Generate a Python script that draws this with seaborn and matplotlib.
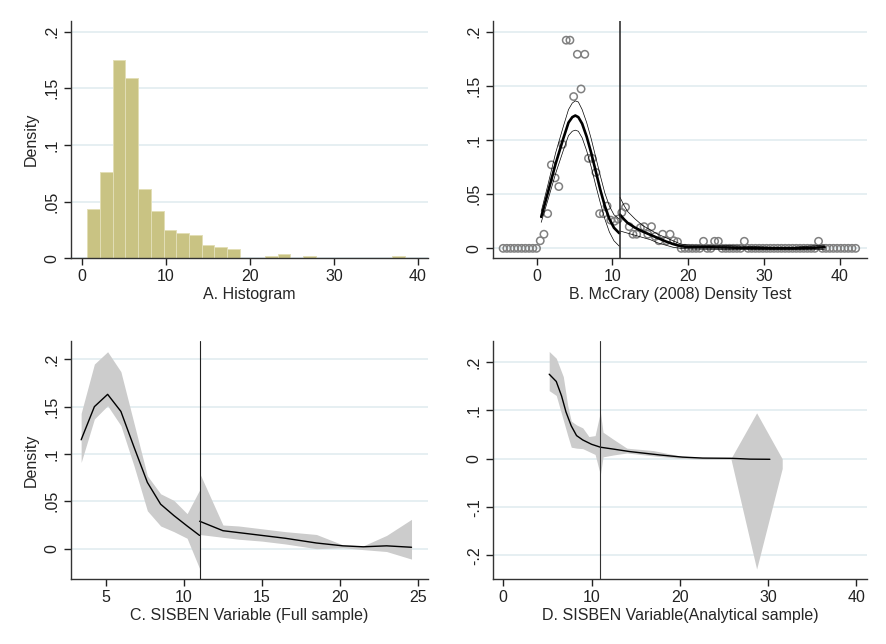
import matplotlib
matplotlib.use("Agg")
import matplotlib.pyplot as plt
import matplotlib.ticker as mticker
import seaborn as sns

# %% data
# A. histogram (bin mids, density)
hist_mid = [1.425, 2.935, 4.445, 5.955, 7.465, 8.975, 10.485, 11.995, 13.505, 15.015,
            16.525, 18.035, 19.545, 21.055, 22.565, 24.075, 25.585, 27.095, 28.605, 30.115,
            31.625, 33.135, 34.645, 36.155, 37.665]
hist_density = [0.0435, 0.0765, 0.175, 0.159, 0.061, 0.042, 0.0247, 0.0226, 0.0206, 0.012,
                0.010, 0.008, 0.0, 0.0, 0.002, 0.0042, 0.0, 0.002, 0.0, 0.0,
                0.0, 0.0, 0.0, 0.0, 0.002]

# B. McCrary cells
mc_x = [-4.43, -3.94, -3.45, -2.96, -2.47, -1.98, -1.49, -1.0, -0.51, -0.02,
        0.47, 0.96, 1.45, 1.94, 2.43, 2.92, 3.41, 3.9, 4.39, 4.88,
        5.37, 5.86, 6.35, 6.84, 7.33, 7.82, 8.31, 8.8, 9.29, 9.78,
        10.27, 10.76,
        11.24, 11.73, 12.22, 12.71, 13.2, 13.69, 14.18, 14.67, 15.16, 15.65,
        16.14, 16.63, 17.12, 17.61, 18.1, 18.59, 19.08, 19.57, 20.06, 20.55,
        21.04, 21.53, 22.02, 22.51, 23.0, 23.49, 23.98, 24.47, 24.96, 25.45,
        25.94, 26.43, 26.92, 27.41, 27.9, 28.39, 28.88, 29.37, 29.86, 30.35,
        30.84, 31.33, 31.82, 32.31, 32.8, 33.29, 33.78, 34.27, 34.76, 35.25,
        35.74, 36.23, 36.72, 37.21, 37.7, 38.19, 38.68, 39.17, 39.66, 40.15,
        40.64, 41.13, 41.62, 42.11]
mc_y = [0, 0, 0, 0, 0, 0, 0, 0, 0, 0,
        0.007, 0.013, 0.032, 0.077, 0.065, 0.057, 0.096, 0.192, 0.192, 0.140,
        0.179, 0.147, 0.179, 0.083, 0.083, 0.070, 0.032, 0.032, 0.039, 0.026,
        0.025, 0.027,
        0.033, 0.038, 0.020, 0.013, 0.013, 0.019, 0.020, 0.013, 0.020, 0.011,
        0.007, 0.013, 0.007, 0.013, 0.007, 0.006, 0, 0, 0, 0,
        0, 0, 0.0065, 0, 0, 0.0065, 0.0065, 0, 0, 0,
        0, 0, 0, 0.0065, 0, 0, 0, 0, 0, 0,
        0, 0, 0, 0, 0, 0, 0, 0, 0, 0,
        0, 0, 0, 0.0065, 0, 0, 0, 0, 0, 0,
        0, 0, 0, 0]

# B. fitted density, left of cutoff
fitL_x = [0.6, 1.5, 2.5, 3.5, 4.2, 4.7, 5.1, 5.5, 6.0, 6.6, 7.2, 7.8, 8.4, 9.0, 9.6, 10.2, 10.9]
fitL_y = [0.029, 0.052, 0.078, 0.101, 0.116, 0.121, 0.1225, 0.121, 0.115, 0.103, 0.088, 0.071, 0.054, 0.039, 0.027, 0.019, 0.014]
fitL_lo = [0.024, 0.045, 0.069, 0.090, 0.104, 0.108, 0.109, 0.108, 0.102, 0.090, 0.075, 0.058, 0.042, 0.027, 0.015, 0.007, 0.002]
fitL_hi = [0.034, 0.059, 0.088, 0.112, 0.128, 0.134, 0.136, 0.135, 0.128, 0.116, 0.101, 0.084, 0.067, 0.051, 0.039, 0.031, 0.027]
# B. fitted density, right of cutoff
fitR_x = [11.0, 11.5, 12.0, 13.0, 14.0, 15.0, 16.0, 17.0, 18.0, 19.0, 20.0, 22.0, 25.0, 28.0, 31.0, 34.0, 36.0, 38.0]
fitR_y = [0.031, 0.027, 0.0235, 0.019, 0.0155, 0.0125, 0.0095, 0.0065, 0.004, 0.002, 0.0012, 0.001, 0.0008, 0.0003, 0.0, 0.0, 0.0004, 0.001]
fitR_lo = [0.016, 0.015, 0.014, 0.012, 0.010, 0.008, 0.005, 0.003, 0.001, 0.0, -0.0005, -0.0008, -0.001, -0.001, -0.001, -0.001, -0.001, -0.001]
fitR_hi = [0.047, 0.040, 0.034, 0.027, 0.021, 0.017, 0.013, 0.010, 0.007, 0.004, 0.003, 0.0028, 0.0026, 0.0018, 0.001, 0.001, 0.002, 0.003]

# C. full sample
cL_x = [3.4, 4.25, 5.1, 5.95, 6.8, 7.65, 8.5, 9.35, 10.2, 11.0]
cL_y = [0.115, 0.150, 0.163, 0.145, 0.107, 0.070, 0.047, 0.035, 0.024, 0.014]
cL_hi = [0.143, 0.195, 0.208, 0.187, 0.132, 0.077, 0.058, 0.051, 0.037, 0.062]
cL_lo = [0.091, 0.137, 0.151, 0.130, 0.087, 0.040, 0.024, 0.018, 0.011, -0.021]
cR_x = [11.0, 12.5, 13.5, 15.0, 16.5, 18.5, 20.2, 21.5, 23.0, 24.6]
cR_y = [0.029, 0.019, 0.017, 0.014, 0.011, 0.006, 0.003, 0.002, 0.003, 0.0015]
cR_hi = [0.080, 0.025, 0.024, 0.021, 0.018, 0.015, 0.004, 0.003, 0.014, 0.031]
cR_lo = [0.015, 0.012, 0.010, 0.008, 0.005, 0.000, 0.001, -0.001, -0.003, -0.011]

# D. analytical sample
d_x = [5.2, 6.0, 6.6, 7.1, 7.7, 8.3, 9.0, 10.0, 11.0, 12.5, 14.3, 17.7, 20.3, 22.6, 25.8, 28.0, 30.2]
d_y = [0.175, 0.160, 0.130, 0.097, 0.068, 0.048, 0.039, 0.030, 0.024, 0.020, 0.015, 0.008, 0.0035, 0.0015, 0.001, -0.0007, -0.001]
d_band_x = [5.2, 6.0, 6.8, 7.3, 7.7, 8.3, 9.0, 9.7, 10.4, 11.0, 11.3, 12.5, 14.0, 17.0, 20.0, 23.0, 25.8, 28.7, 31.6]
d_band_hi = [0.222, 0.208, 0.170, 0.110, 0.078, 0.070, 0.064, 0.046, 0.048, 0.097, 0.055, 0.040, 0.022, 0.017, 0.006, 0.002, 0.001, 0.095, 0.000]
d_band_lo = [0.141, 0.131, 0.080, 0.048, 0.024, 0.022, 0.021, 0.015, 0.009, -0.033, 0.004, 0.008, 0.012, 0.006, 0.001, -0.001, -0.001, -0.228, -0.020]

cutoff = 11

# %% style
sns.set_style("white")
plt.rcParams['font.family'] = ['Liberation Sans', 'DejaVu Sans']
plt.rcParams['font.size'] = 11
plt.rcParams['text.color'] = '#111111'
plt.rcParams['xtick.color'] = '#222222'
plt.rcParams['ytick.color'] = '#222222'

grid_col = '#e4eef1'
band_col = '#cccccc'


def stata_axes(ax, xlim, ylim, xticks, yticks, xlabel, ylabel=None):
    ax.set_xlim(*xlim)
    ax.set_ylim(*ylim)
    ax.set_xticks(xticks)
    ax.set_yticks(yticks)
    ax.yaxis.set_major_formatter(mticker.FuncFormatter(
        lambda v, p: '0' if abs(v) < 1e-9 else ('%g' % v).replace('0.', '.')))
    for lab in ax.get_yticklabels():
        lab.set_rotation(90)
        lab.set_va('center')
    ax.tick_params(axis='both', direction='out', length=5, width=1, labelsize=11.5,
                   bottom=True, left=True, pad=3)
    sns.despine(ax=ax)
    for s in ['left', 'bottom']:
        ax.spines[s].set_color('#333333')
        ax.spines[s].set_linewidth(1.0)
    ax.grid(False)
    for yv in yticks:
        ax.axhline(yv, color=grid_col, lw=1.3, zorder=0)
    ax.set_xlabel(xlabel, fontsize=11.5, labelpad=2)
    ax.set_ylabel(ylabel if ylabel else '', fontsize=11.5, labelpad=4)


fig = plt.figure(figsize=(8.86, 6.44), dpi=100)
axA = fig.add_axes([0.0798, 0.5989, 0.4033, 0.369])
axB = fig.add_axes([0.5564, 0.5989, 0.4221, 0.369])
axC = fig.add_axes([0.0798, 0.1014, 0.4033, 0.3686])
axD = fig.add_axes([0.5564, 0.1014, 0.4221, 0.3686])

# A. Histogram
sns.histplot(x=hist_mid, weights=hist_density, binwidth=1.51, binrange=(0.67, 38.43),
             color='#c9c383', edgecolor='#e2deb6', linewidth=0.7, alpha=1, ax=axA, zorder=2)
stata_axes(axA, (-1.31, 41.2), (0, 0.2097), [0, 10, 20, 30, 40],
           [0, 0.05, 0.1, 0.15, 0.2], 'A. Histogram', 'Density')

# B. McCrary
sns.scatterplot(x=mc_x, y=mc_y, marker='o', s=28, facecolors='none',
                edgecolor='#808080', linewidth=1.1, ax=axB, zorder=3)
for xs, ys, lo, hi in [(fitL_x, fitL_y, fitL_lo, fitL_hi), (fitR_x, fitR_y, fitR_lo, fitR_hi)]:
    sns.lineplot(x=xs, y=lo, color='black', lw=0.5, estimator=None, ax=axB, zorder=4)
    sns.lineplot(x=xs, y=hi, color='black', lw=0.5, estimator=None, ax=axB, zorder=4)
    sns.lineplot(x=xs, y=ys, color='black', lw=1.9, estimator=None, ax=axB, zorder=5)
axB.axvline(cutoff, color='#222222', lw=1.1, zorder=6)
stata_axes(axB, (-5.77, 43.6), (-0.0092, 0.210), [0, 10, 20, 30, 40],
           [0, 0.05, 0.1, 0.15, 0.2], 'B. McCrary (2008) Density Test')

# C. SISBEN full sample
for xs, ys, lo, hi in [(cL_x, cL_y, cL_lo, cL_hi), (cR_x, cR_y, cR_lo, cR_hi)]:
    axC.fill_between(xs, lo, hi, color=band_col, lw=0, zorder=2)
    sns.lineplot(x=xs, y=ys, color='black', lw=1.0, estimator=None, ax=axC, zorder=3)
axC.axvline(cutoff, color='#222222', lw=0.8, zorder=4)
stata_axes(axC, (2.73, 25.66), (-0.0317, 0.219), [5, 10, 15, 20, 25],
           [0, 0.05, 0.1, 0.15, 0.2], 'C. SISBEN Variable (Full sample)', 'Density')

# D. SISBEN analytical sample
axD.fill_between(d_band_x, d_band_lo, d_band_hi, color=band_col, lw=0, zorder=2)
sns.lineplot(x=d_x, y=d_y, color='black', lw=1.0, estimator=None, ax=axD, zorder=3)
axD.axvline(cutoff, color='#333333', lw=0.8, zorder=4)
stata_axes(axD, (-1.17, 41.2), (-0.248, 0.243), [0, 10, 20, 30, 40],
           [-0.2, -0.1, 0, 0.1, 0.2], 'D. SISBEN Variable(Analytical sample)')

fig.savefig('out.png', dpi=100)
